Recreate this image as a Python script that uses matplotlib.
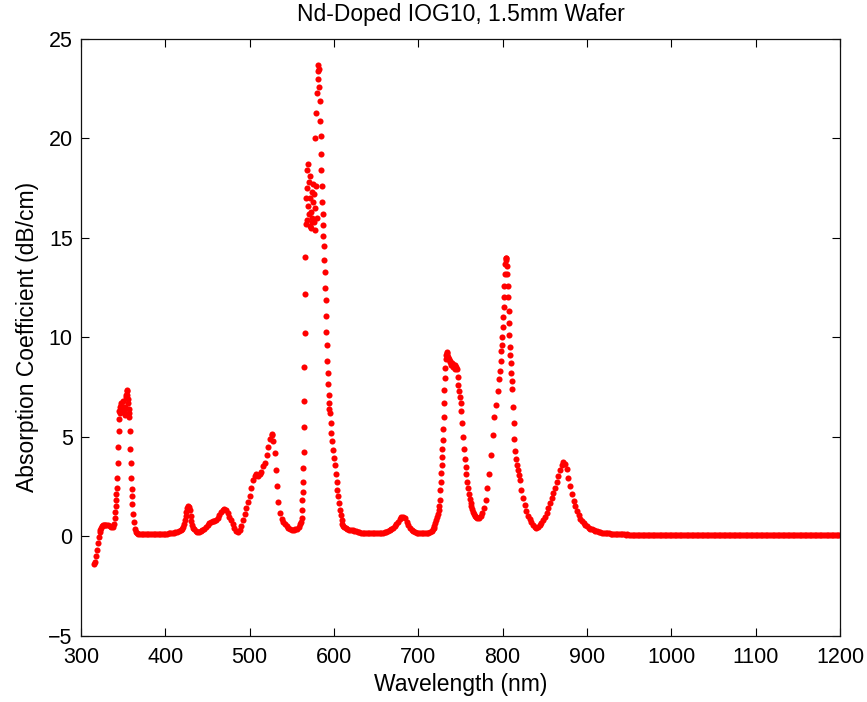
import numpy as np
import matplotlib
matplotlib.use("Agg")
import matplotlib.pyplot as plt

plt.rcParams['font.family'] = ['Liberation Sans', 'DejaVu Sans']

# readings (wavelength nm, absorption dB/cm) taken off the spectrum, band by band
uv_band = [
    (316, -1.4), (317, -1.3), (318, -1.0), (319, -0.7), (320, -0.35), (321, -0.05),
    (322, 0.2), (323, 0.32), (324, 0.42), (325, 0.5), (326, 0.55), (327, 0.56),
    (328, 0.55), (330, 0.55), (332, 0.56), (334, 0.5), (336, 0.48), (338, 0.47),
    (339, 0.6), (340, 0.9), (340.5, 1.2), (341, 1.5), (341.5, 1.8), (342, 2.1),
    (342.5, 2.4), (343, 2.9), (343.5, 3.7), (344, 4.5), (344.5, 5.3), (345, 5.9),
    (345.5, 6.3), (346, 6.5), (346.5, 6.2), (347, 6.6), (347.5, 6.3), (348, 6.7),
    (349, 6.4), (350, 6.8), (351, 6.3), (352, 6.1), (352.5, 6.5), (353, 7.0),
    (353.5, 7.1), (354, 7.3), (354.5, 7.35), (355, 7.1), (355.5, 6.9), (356, 6.7),
    (356.5, 6.4), (357, 6.2), (357.5, 6.0), (358, 5.3), (358.5, 4.4), (359, 3.7),
    (359.5, 2.9), (360, 2.35), (360.5, 2.0), (361, 1.6), (362, 1.1), (363, 0.7),
    (364, 0.35), (365, 0.2), (366, 0.15), (368, 0.12), (370, 0.12), (372, 0.1),
]

blue_band = [
    (374, 0.1), (376, 0.1), (378, 0.08), (380, 0.1), (382, 0.1), (384, 0.1),
    (386, 0.08), (388, 0.1), (390, 0.1), (392, 0.12), (394, 0.1), (396, 0.12),
    (398, 0.12), (400, 0.1), (402, 0.12), (404, 0.14), (406, 0.15), (408, 0.15),
    (410, 0.17), (412, 0.2), (414, 0.22), (416, 0.25), (418, 0.3), (420, 0.35),
    (421, 0.45), (422, 0.6), (423, 0.8), (424, 1.0), (425, 1.2), (426, 1.4),
    (427, 1.5), (428, 1.45), (429, 1.3), (430, 1.0), (431, 0.75), (432, 0.55),
    (433, 0.42), (434, 0.35), (436, 0.28), (438, 0.22), (440, 0.22), (442, 0.25),
    (444, 0.3), (446, 0.38), (448, 0.45), (450, 0.55), (452, 0.65), (454, 0.72),
    (456, 0.75), (458, 0.78), (460, 0.8), (462, 0.9), (464, 1.05), (466, 1.2),
    (468, 1.3), (470, 1.35), (472, 1.3), (474, 1.15), (476, 0.95), (478, 0.8),
    (480, 0.6), (482, 0.4), (484, 0.25), (486, 0.2), (488, 0.3), (490, 0.5),
    (492, 0.8), (494, 1.1), (496, 1.4), (498, 1.7), (500, 2.0), (502, 2.4),
    (504, 2.8), (506, 3.0), (508, 3.1), (510, 3.0), (512, 3.1), (514, 3.2),
    (516, 3.5), (518, 3.7), (520, 4.1), (522, 4.5), (524, 4.9), (526, 5.15),
    (527, 5.1), (528, 4.8), (530, 4.2), (531, 3.3), (532, 2.5), (534, 1.7),
    (536, 1.15), (538, 0.85), (540, 0.7), (542, 0.6), (544, 0.5), (546, 0.42),
    (548, 0.36), (550, 0.33), (552, 0.32), (554, 0.34), (556, 0.38), (558, 0.45),
    (560, 0.6), (561, 0.7),
]

yellow_band = [
    (561.5, 0.9), (562, 1.3), (562.5, 1.8), (563, 2.2), (563.3, 2.7), (563.6, 3.4),
    (563.9, 4.25), (564.2, 5.5), (564.5, 6.8), (564.8, 8.5), (565.1, 10.2),
    (565.4, 12.2), (565.7, 14.05), (566.5, 15.7), (567, 17.0), (567.5, 18.4),
    (568, 17.5), (568.5, 15.9), (569, 16.6), (569.5, 18.7), (570, 17.8),
    (570.5, 16.2), (571, 15.6), (571.5, 18.1), (572, 17.0), (572.5, 15.5),
    (573, 16.3), (573.5, 17.3), (574, 16.0), (574.5, 15.8), (575, 17.7),
    (575.5, 16.8), (576, 15.8), (576.5, 17.2), (577, 16.5), (577.5, 15.4),
    (578, 20.0), (578.5, 21.3), (579, 17.6), (579.5, 16.0), (580, 22.3),
    (580.5, 23.0), (581, 23.4), (581.5, 23.7), (582, 23.5), (582.5, 22.6),
    (583, 21.9), (583.5, 20.9), (584, 20.1), (584.5, 19.2), (585, 18.4),
    (585.5, 17.6), (586, 16.8), (586.5, 16.2), (587, 15.65), (587.5, 15.1),
    (588, 14.6), (588.5, 13.9), (589, 13.3), (589.5, 12.5), (590, 11.85),
    (590.5, 11.05), (591, 10.25), (591.5, 9.6), (592, 8.8), (592.5, 8.2),
    (593, 7.65), (593.5, 7.1), (594, 6.7), (594.5, 6.4), (595, 6.2), (596, 5.7),
    (597, 5.2), (598, 4.8), (599, 4.35), (600, 3.95), (601, 3.55), (602, 3.1),
    (603, 2.7), (604, 2.3), (605, 2.0), (606, 1.65), (607, 1.3), (608, 1.05),
    (609, 0.8), (610, 0.62), (611, 0.5), (612, 0.45), (614, 0.4), (616, 0.35),
    (618, 0.32), (620, 0.32), (622, 0.3), (624, 0.28),
]

red_band = [
    (626, 0.25), (628, 0.22), (630, 0.2), (632, 0.18), (634, 0.16), (636, 0.15),
    (638, 0.14), (640, 0.13), (642, 0.13), (644, 0.13), (646, 0.13), (648, 0.14),
    (650, 0.14), (652, 0.15), (654, 0.15), (656, 0.16), (658, 0.18), (660, 0.2),
    (662, 0.22), (664, 0.25), (666, 0.3), (668, 0.35), (670, 0.42), (672, 0.5),
    (674, 0.6), (676, 0.72), (678, 0.85), (680, 0.95), (682, 0.98), (684, 0.9),
    (686, 0.72), (688, 0.55), (690, 0.42), (692, 0.32), (694, 0.25), (696, 0.2),
    (698, 0.17), (700, 0.15), (702, 0.14), (704, 0.13), (706, 0.13), (708, 0.13),
    (710, 0.14), (712, 0.16), (714, 0.2), (716, 0.27), (717, 0.35), (718, 0.42),
]

nir_band = [
    (719, 0.5), (720, 0.65), (721, 0.8), (722, 0.95), (723, 1.1), (724, 1.3),
    (725, 1.5), (725.5, 1.8), (726, 2.3), (726.5, 2.7), (727, 3.15), (727.5, 3.6),
    (728, 4.0), (728.5, 4.4), (729, 4.85), (729.5, 5.4), (730, 6.0), (730.5, 6.7),
    (731, 7.35), (731.5, 7.95), (732, 8.45), (732.5, 8.9), (733, 9.1), (733.5, 9.28),
    (734, 9.2), (734.5, 9.1), (735, 9.0), (736, 8.9), (737, 8.8), (738, 8.75),
    (739, 8.6), (740, 8.7), (741, 8.5), (742, 8.6), (743, 8.4), (744, 8.6),
    (745, 8.5), (746, 8.4), (747, 8.0), (747.5, 7.6), (748, 7.3), (749, 7.0),
    (750, 6.7), (751, 6.3), (752, 5.7), (753, 5.0), (754, 4.4), (755, 3.9),
    (756, 3.45), (757, 3.1), (758, 2.7), (759, 2.4), (760, 2.1), (761, 1.85),
    (762, 1.65), (763, 1.5), (764, 1.35), (765, 1.2), (766, 1.1), (767, 1.0),
    (768, 0.95), (770, 0.9), (772, 0.92), (774, 1.0), (776, 1.15), (778, 1.4),
    (780, 1.8), (782, 2.4), (784, 3.1), (786, 4.1), (788, 5.1), (790, 6.0),
    (792, 6.6), (794, 7.3), (796, 7.9), (797, 8.3), (798, 8.8), (798.5, 9.3),
    (799, 9.6), (799.5, 10.0), (800, 10.5), (800.5, 11.0), (801, 11.5),
    (801.5, 12.0), (802, 12.6), (802.5, 13.2), (803, 13.7), (803.5, 14.0),
    (804, 14.0), (804.5, 13.9), (805, 13.6), (805.5, 13.2), (806, 12.6),
    (806.5, 12.0), (807, 11.3), (807.5, 10.7), (808, 10.1), (808.5, 9.5),
    (809, 9.1), (809.5, 8.7), (810, 8.2), (810.5, 7.8), (811, 7.4), (812, 6.5),
    (813, 5.7), (814, 4.9), (815, 4.3), (816, 3.9), (817, 3.6), (818, 3.3),
    (819, 3.05), (820, 2.8), (822, 2.3), (824, 1.9), (826, 1.55), (828, 1.25),
    (830, 1.0), (832, 0.85), (834, 0.7), (836, 0.58), (838, 0.48), (840, 0.42),
    (842, 0.45), (844, 0.55),
]

ir_band = [
    (846, 0.65), (848, 0.8), (850, 0.95), (852, 1.15), (854, 1.4), (856, 1.65),
    (858, 1.9), (860, 2.15), (862, 2.4), (864, 2.7), (866, 3.0), (868, 3.3),
    (870, 3.6), (872, 3.72), (874, 3.65), (876, 3.35), (878, 2.9), (880, 2.5),
    (882, 2.1), (884, 1.75), (886, 1.5), (888, 1.25), (890, 1.05), (892, 0.88),
    (894, 0.75), (896, 0.65), (898, 0.57), (900, 0.5), (902, 0.43), (904, 0.38),
    (906, 0.34), (908, 0.3), (910, 0.28), (912, 0.25), (914, 0.22), (916, 0.2),
    (918, 0.18), (920, 0.16), (922, 0.15), (924, 0.14), (926, 0.13), (928, 0.12),
    (930, 0.11),
]

# flat tail 932..1200 nm, every 2 nm
tail_start, tail_step = 932, 2
tail_abs = [
    0.10, 0.10, 0.09, 0.09, 0.08, 0.08, 0.08, 0.07, 0.08, 0.07,
    0.07, 0.06, 0.07, 0.06, 0.06, 0.07, 0.06, 0.05, 0.06, 0.06,
    0.05, 0.07, 0.04, 0.05, 0.07, 0.03, 0.05, 0.07, 0.05, 0.03,
    0.05, 0.07, 0.05, 0.05, 0.03, 0.07, 0.05, 0.05, 0.03, 0.05,
    0.07, 0.03, 0.05, 0.05, 0.07, 0.03, 0.05, 0.05, 0.03, 0.07,
    0.05, 0.03, 0.05, 0.07, 0.05, 0.03, 0.05, 0.05, 0.07, 0.03,
    0.05, 0.05, 0.03, 0.07, 0.05, 0.05, 0.03, 0.05, 0.07, 0.05,
    0.03, 0.05, 0.05, 0.07, 0.03, 0.05, 0.05, 0.03, 0.05, 0.07,
    0.05, 0.03, 0.05, 0.05, 0.07, 0.05, 0.03, 0.05, 0.05, 0.03,
    0.07, 0.05, 0.05, 0.03, 0.05, 0.07, 0.05, 0.03, 0.05, 0.05,
    0.07, 0.03, 0.05, 0.05, 0.03, 0.07, 0.05, 0.05, 0.03, 0.05,
    0.05, 0.07, 0.03, 0.05, 0.05, 0.03, 0.07, 0.05, 0.05, 0.03,
    0.05, 0.07, 0.05, 0.03, 0.05, 0.05, 0.07, 0.03, 0.05, 0.05,
    0.03, 0.05, 0.07, 0.05, 0.05,
]
tail_wl = tail_start + tail_step * np.arange(len(tail_abs))

bands = uv_band + blue_band + yellow_band + red_band + nir_band + ir_band
wl = np.array([p[0] for p in bands] + list(tail_wl), dtype=float)
absorb = np.array([p[1] for p in bands] + tail_abs, dtype=float)

fig = plt.figure(figsize=(8.67, 7.02), dpi=100)
ax = fig.add_axes([81 / 867, (702 - 635.5) / 702, (840 - 81) / 867, (635.5 - 39) / 702])

ax.plot(wl, absorb, 'o', color='#ff0000', markersize=4.4, markeredgewidth=0)

ax.set_xlim(300, 1200)
ax.set_ylim(-5, 25)
ax.set_xticks(np.arange(300, 1201, 100))
ax.set_yticks(np.arange(-5, 26, 5))
ax.tick_params(direction='in', length=5.5, width=0.8, top=True, right=True,
               labelsize=15.5, colors='black')
ax.tick_params(axis='x', pad=8)
ax.tick_params(axis='y', pad=6)
for s in ax.spines.values():
    s.set_linewidth(0.9)
    s.set_color('#111111')

ax.set_title('Nd-Doped IOG10, 1.5mm Wafer', fontsize=16.5, pad=13)
ax.set_xlabel('Wavelength (nm)', fontsize=16.5, labelpad=4)
ax.set_ylabel('Absorption Coefficient (dB/cm)', fontsize=16.5, labelpad=7)

fig.savefig('out.png', dpi=100)
